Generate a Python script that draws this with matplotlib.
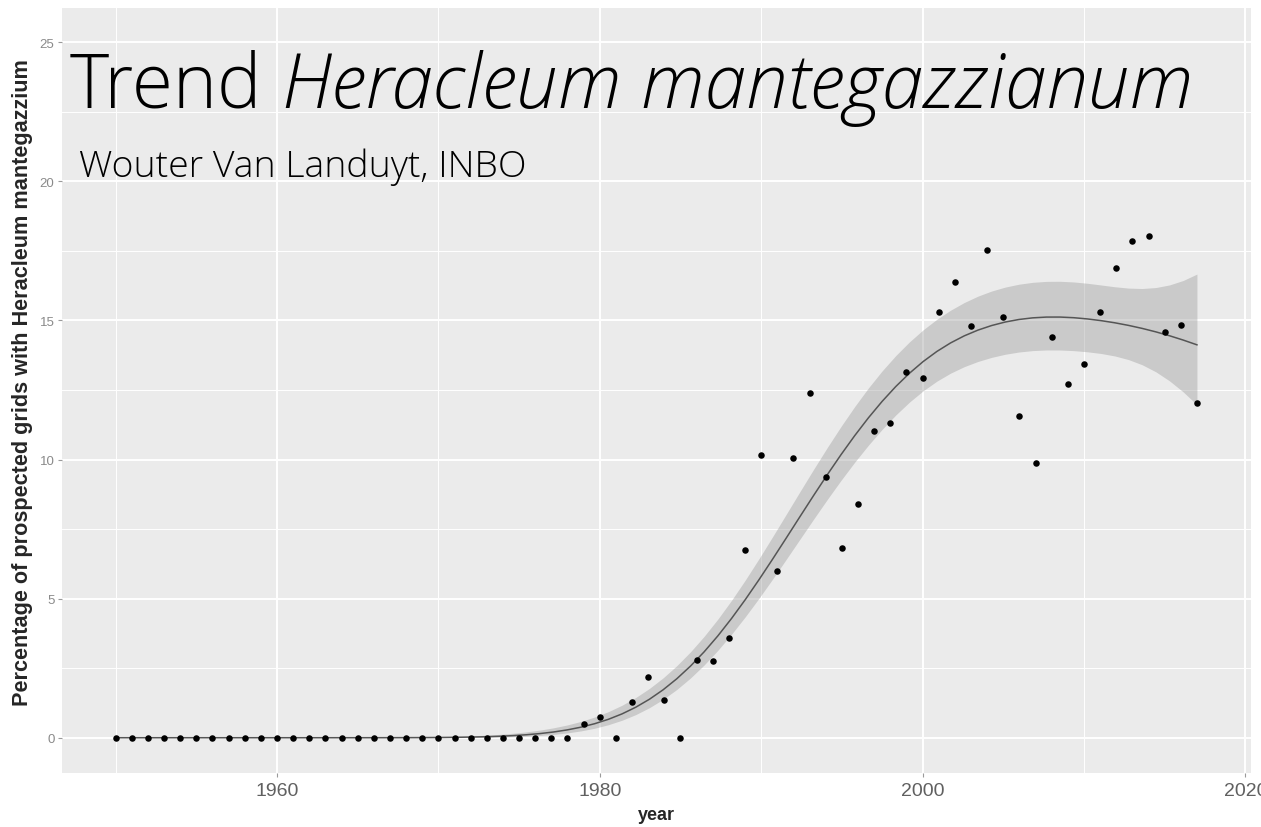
import numpy as np
import matplotlib
matplotlib.use("Agg")
import matplotlib.pyplot as plt
from matplotlib.ticker import MultipleLocator, FixedLocator

# ---------------- data ----------------
years = [1950, 1951, 1952, 1953, 1954, 1955, 1956, 1957, 1958, 1959,
         1960, 1961, 1962, 1963, 1964, 1965, 1966, 1967, 1968, 1969,
         1970, 1971, 1972, 1973, 1974, 1975, 1976, 1977, 1978, 1979,
         1980, 1981, 1982, 1983, 1984, 1985, 1986, 1987, 1988, 1989,
         1990, 1991, 1992, 1993, 1994, 1995, 1996, 1997, 1998, 1999,
         2000, 2001, 2002, 2003, 2004, 2005, 2006, 2007, 2008, 2009,
         2010, 2011, 2012, 2013, 2014, 2015, 2016, 2017]
percentage = [0, 0, 0, 0, 0, 0, 0, 0, 0, 0,
              0, 0, 0, 0, 0, 0, 0, 0, 0, 0,
              0, 0, 0, 0, 0, 0, 0, 0, 0, 0.48,
              0.75, 0, 1.28, 2.17, 1.36, 0, 2.80, 2.75, 3.58, 6.75,
              10.17, 5.99, 10.06, 12.40, 9.37, 6.81, 8.41, 11.04, 11.30, 13.16,
              12.93, 15.31, 16.40, 14.81, 17.55, 15.12, 11.58, 9.86, 14.42, 12.73,
              13.45, 15.30, 16.90, 17.84, 18.02, 14.58, 14.85, 12.05]
x_ticks = [1960, 1980, 2000, 2020]
x_tick_labels = ["1960", "1980", "2000", "2020"]
y_ticks = [0, 5, 10, 15, 20, 25]
y_tick_labels = ["0", "5", "10", "15", "20", "25"]

title_plain = "Trend"
title_italic = "Heracleum mantegazzianum"
subtitle = "Wouter Van Landuyt, INBO"
x_label = "year"
y_label = "Percentage of prospected grids with Heracleum mantegazzium"

x = np.asarray(years, float)
y = np.asarray(percentage, float)


# ---------------- smoother: penalised B-spline, log link (quasi-Poisson) ----------------
def bspline_basis(xv, knots, deg=3):
    xv = np.asarray(xv, float)
    B = np.zeros((len(xv), len(knots) - 1))
    for i in range(len(knots) - 1):
        B[:, i] = (xv >= knots[i]) & (xv < knots[i + 1])
    for d in range(1, deg + 1):
        Bn = np.zeros((len(xv), len(knots) - 1 - d))
        for i in range(len(knots) - 1 - d):
            a = (xv - knots[i]) / (knots[i + d] - knots[i]) * B[:, i]
            b = (knots[i + d + 1] - xv) / (knots[i + d + 1] - knots[i + 1]) * B[:, i + 1]
            Bn[:, i] = a + b
        B = Bn
    return B


deg = 3
nseg = 10
pen_order = 3
lam = 13.0
xl, xr = x.min() - 0.5, x.max() + 0.5
dx = (xr - xl) / nseg
knots = xl + dx * np.arange(-deg, nseg + deg + 1)
B = bspline_basis(x, knots, deg)
nb = B.shape[1]
D = np.diff(np.eye(nb), pen_order, axis=0)
P = lam * D.T @ D

beta = np.linalg.solve(B.T @ B + P, B.T @ np.log(y + 0.5))
for _ in range(500):
    eta = B @ beta
    mu = np.exp(eta)
    z = eta + (y - mu) / mu
    A = B.T @ (mu[:, None] * B) + P
    bn = np.linalg.solve(A, B.T @ (mu * z))
    if np.max(np.abs(bn - beta)) < 1e-9:
        beta = bn
        break
    beta = 0.5 * beta + 0.5 * bn

eta = B @ beta
mu = np.exp(eta)
XtWX = B.T @ (mu[:, None] * B)
Ainv = np.linalg.inv(XtWX + P)
edf = np.trace(Ainv @ XtWX)
phi = np.sum((y - mu) ** 2 / np.maximum(mu, 1e-12)) / (len(y) - edf)
cov = phi * Ainv

xg = np.linspace(x.min(), x.max(), 80)
Bg = bspline_basis(xg, knots, deg)
eta_g = Bg @ beta
se_g = np.sqrt(np.sum((Bg @ cov) * Bg, axis=1))
fit = np.exp(eta_g)
lo = np.exp(eta_g - 1.96 * se_g)
hi = np.exp(eta_g + 1.96 * se_g)

# ---------------- figure ----------------
W, H, DPI = 1261, 828, 100
fig = plt.figure(figsize=(W / DPI, H / DPI), dpi=DPI, facecolor="white")

ax_l, ax_r, ax_t, ax_b = 61.5, 1251.0, 8.5, 773.5
ax = fig.add_axes([ax_l / W, 1 - ax_b / H, (ax_r - ax_l) / W, (ax_b - ax_t) / H])
ax.set_facecolor("#EBEBEB")
for s in ax.spines.values():
    s.set_visible(False)

xr_ = x.max() - x.min()
ax.set_xlim(x.min() - 0.05 * xr_, x.max() + 0.05 * xr_)
ax.set_ylim(-1.25, 26.25)

ax.xaxis.set_major_locator(FixedLocator(x_ticks))
ax.xaxis.set_minor_locator(MultipleLocator(10))
ax.yaxis.set_major_locator(FixedLocator(y_ticks))
ax.yaxis.set_minor_locator(MultipleLocator(2.5))
ax.set_xticklabels(x_tick_labels)
ax.set_yticklabels(y_tick_labels)
ax.grid(which="major", color="white", lw=1.4)
ax.grid(which="minor", color="white", lw=0.7)
ax.set_axisbelow(True)

ax.tick_params(axis="x", which="major", length=3, width=0.8, color="#9a9a9a",
               labelsize=14, labelcolor="#606060", pad=4)
ax.tick_params(axis="y", which="major", length=3, width=0.8, color="#9a9a9a",
               labelsize=9.5, labelcolor="#8a8a8a", pad=2)
ax.tick_params(which="minor", length=0)
for lab in ax.get_xticklabels() + ax.get_yticklabels():
    lab.set_family(["Liberation Sans", "DejaVu Sans"])

ax.fill_between(xg, lo, hi, color="#999999", alpha=0.4, lw=0, zorder=2)
ax.plot(xg, fit, color="#555555", lw=1.1, zorder=3)
ax.scatter(x, y, s=22, color="black", lw=0, zorder=4)

# ---------------- texts ----------------
fig.canvas.draw()
r = fig.canvas.get_renderer()
TFONT = ["Open Sans", "Roboto", "DejaVu Sans"]


def fit_width(txt, target, fs0=40):
    txt.set_fontsize(fs0)
    w = txt.get_window_extent(r).width
    txt.set_fontsize(fs0 * target / w)


t1 = fig.text(70 / W, 1 - 108 / H, title_plain, family=TFONT, weight="light",
              va="baseline", ha="left", color="black")
t2 = fig.text(0, 1 - 108 / H, title_italic, family=TFONT, weight="light",
              style="italic", va="baseline", ha="left", color="black")


def layout_title(fs):
    t1.set_fontsize(fs)
    t2.set_fontsize(fs)
    b1 = t1.get_window_extent(r)
    gap = 0.26 * fs * DPI / 72.0
    t2.set_x((b1.x1 + gap) / W)
    b2 = t2.get_window_extent(r)
    return b2.x1 - b1.x0


w0 = layout_title(50)
layout_title(50 * (1194 - 70) / w0)

st = fig.text(79 / W, 1 - 177 / H, subtitle, family=TFONT, weight="light",
              va="baseline", ha="left", color="black")
fit_width(st, 526 - 79)

yl = fig.text(23 / W, 1 - 383 / H, y_label, family=["Liberation Sans", "DejaVu Sans"],
              weight="bold", rotation=90, ha="center", va="center", color="#262626")
yl.set_fontsize(13)
h = yl.get_window_extent(r).height
yl.set_fontsize(13 * 645 / h)

fig.text(656 / W, 1 - 816 / H, x_label, family=["Liberation Sans", "DejaVu Sans"],
         weight="bold", ha="center", va="center", fontsize=13, color="#262626")

fig.savefig("out.png", dpi=DPI, facecolor="white")
